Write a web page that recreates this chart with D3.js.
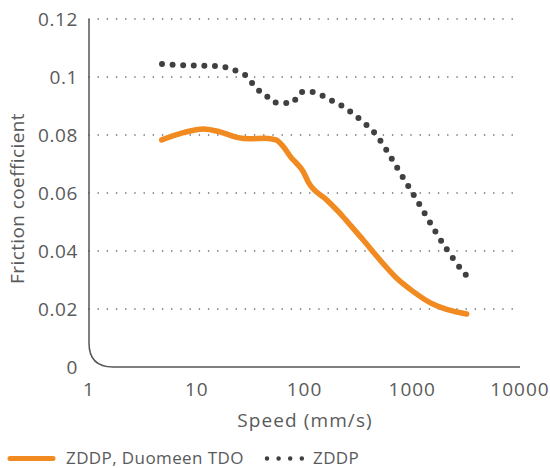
<!DOCTYPE html>
<html>
<head>
<meta charset="utf-8">
<script src="https://cdn.jsdelivr.net/npm/d3@7"></script>
<style>
  html, body { margin: 0; padding: 0; background: #fff; }
  svg { display: block; font-family: "Open Sans", Lato, sans-serif; }
</style>
</head>
<body>
<svg id="chart" width="550" height="468"></svg>
<script>
// ---- data ----
const zddpDuomeenSpeed = [4.73, 7.5, 11.5, 16.4, 23.5, 31.2, 43.0, 54.4, 63.6, 76.1, 81.7, 97.6, 108, 161, 221, 274, 351, 502, 718, 1023, 1462, 2088, 3200];
const zddpDuomeenFriction = [0.0783, 0.0808, 0.0821, 0.0811, 0.0792, 0.0787, 0.0789, 0.0783, 0.0760, 0.0720, 0.0708, 0.0673, 0.0639, 0.0576, 0.0524, 0.0484, 0.0438, 0.0369, 0.0306, 0.0260, 0.0222, 0.0199, 0.0183];

const zddpSpeed = [4.76, 7.61, 15.7, 19.9, 24.8, 30.5, 34.9, 43.0, 50.2, 62.2, 77.1, 84.7, 94.2, 118, 146, 181, 224, 332, 464, 604, 774, 995, 1267, 1616, 2088, 2775, 3200];
const zddpFriction = [0.1045, 0.1040, 0.1038, 0.1030, 0.1016, 0.0996, 0.0963, 0.0942, 0.0914, 0.0911, 0.0910, 0.0930, 0.0948, 0.0948, 0.0936, 0.0918, 0.0900, 0.0852, 0.0800, 0.0736, 0.0669, 0.0603, 0.0538, 0.0471, 0.0406, 0.0342, 0.0314];

const xTicks = [1, 10, 100, 1000, 10000];
const xTickLabels = ["1", "10", "100", "1000", "10000"];
const yTicks = [0, 0.02, 0.04, 0.06, 0.08, 0.1, 0.12];
const yTickLabels = ["0", "0.02", "0.04", "0.06", "0.08", "0.1", "0.12"];
const seriesNames = ["ZDDP, Duomeen TDO", "ZDDP"];
const xTitle = "Speed (mm/s)";
const yTitle = "Friction coefficient";

// ---- layout ----
const mLeft = 89, mRight = 520, mTop = 19, mBottom = 367;
const orange = "#F28A22";
const dark = "#404040";
const textCol = "#5a5a5a";

const svg = d3.select("#chart");
const x = d3.scaleLog().domain([1, 10000]).range([mLeft, mRight]);
const y = d3.scaleLinear().domain([0, 0.12]).range([mBottom, mTop]);

// gridlines (dotted)
svg.append("g").selectAll("line")
  .data(yTicks.filter(d => d > 0))
  .join("line")
  .attr("x1", mLeft).attr("x2", mRight)
  .attr("y1", d => y(d)).attr("y2", d => y(d))
  .attr("stroke", "#555").attr("stroke-width", 1.6)
  .attr("stroke-linecap", "round")
  .attr("stroke-dasharray", "0 9.2");

// axis frame with rounded corner
const r = 24;
const frame = d3.path();
frame.moveTo(mLeft, mTop);
frame.lineTo(mLeft, mBottom - r);
frame.quadraticCurveTo(mLeft, mBottom, mLeft + r, mBottom);
frame.lineTo(mRight, mBottom);
svg.append("path").attr("d", frame.toString())
  .attr("fill", "none").attr("stroke", "#555").attr("stroke-width", 1.5);

// y tick labels
svg.append("g").selectAll("text")
  .data(yTicks)
  .join("text")
  .attr("x", 78)
  .attr("y", d => y(d))
  .attr("dy", "0.36em")
  .attr("text-anchor", "end")
  .attr("font-size", 19)
  .attr("letter-spacing", 0.6)
  .attr("fill", textCol)
  .text((d, i) => yTickLabels[i]);

// x tick labels
svg.append("g").selectAll("text")
  .data(xTicks)
  .join("text")
  .attr("x", d => x(d))
  .attr("y", 396)
  .attr("text-anchor", "middle")
  .attr("font-size", 19)
  .attr("letter-spacing", 1)
  .attr("fill", textCol)
  .text((d, i) => xTickLabels[i]);

// axis titles
svg.append("text")
  .attr("x", 305).attr("y", 427)
  .attr("text-anchor", "middle")
  .attr("font-size", 19).attr("letter-spacing", 1.1).attr("fill", textCol)
  .text(xTitle);

svg.append("text")
  .attr("transform", "translate(24,198.5) rotate(-90)")
  .attr("text-anchor", "middle")
  .attr("font-size", 19).attr("letter-spacing", 0.4).attr("fill", textCol)
  .text(yTitle);

// series
const line = d3.line().curve(d3.curveMonotoneX).x(d => x(d[0])).y(d => y(d[1]));
const dataZ = zddpSpeed.map((v, i) => [v, zddpFriction[i]]);
const dataZD = zddpDuomeenSpeed.map((v, i) => [v, zddpDuomeenFriction[i]]);

svg.append("path").datum(dataZ)
  .attr("d", line)
  .attr("fill", "none").attr("stroke", dark)
  .attr("stroke-width", 6).attr("stroke-linecap", "round")
  .attr("stroke-dasharray", "0 10.6");

svg.append("path").datum(dataZD)
  .attr("d", line)
  .attr("fill", "none").attr("stroke", orange)
  .attr("stroke-width", 5.5).attr("stroke-linecap", "round")
  .attr("stroke-linejoin", "round");

// legend
const lg = svg.append("g");
lg.append("line").attr("x1", 10).attr("x2", 53).attr("y1", 458.5).attr("y2", 458.5)
  .attr("stroke", orange).attr("stroke-width", 5).attr("stroke-linecap", "round");
lg.append("text").attr("x", 66).attr("y", 464).attr("font-size", 17).attr("letter-spacing", 0.4).attr("fill", textCol)
  .text(seriesNames[0]);
lg.append("line").attr("x1", 267).attr("x2", 302).attr("y1", 458.5).attr("y2", 458.5)
  .attr("stroke", dark).attr("stroke-width", 4.5).attr("stroke-linecap", "round")
  .attr("stroke-dasharray", "0 11.6");
lg.append("text").attr("x", 313).attr("y", 464).attr("font-size", 17).attr("letter-spacing", 0.4).attr("fill", textCol)
  .text(seriesNames[1]);
</script>
</body>
</html>
